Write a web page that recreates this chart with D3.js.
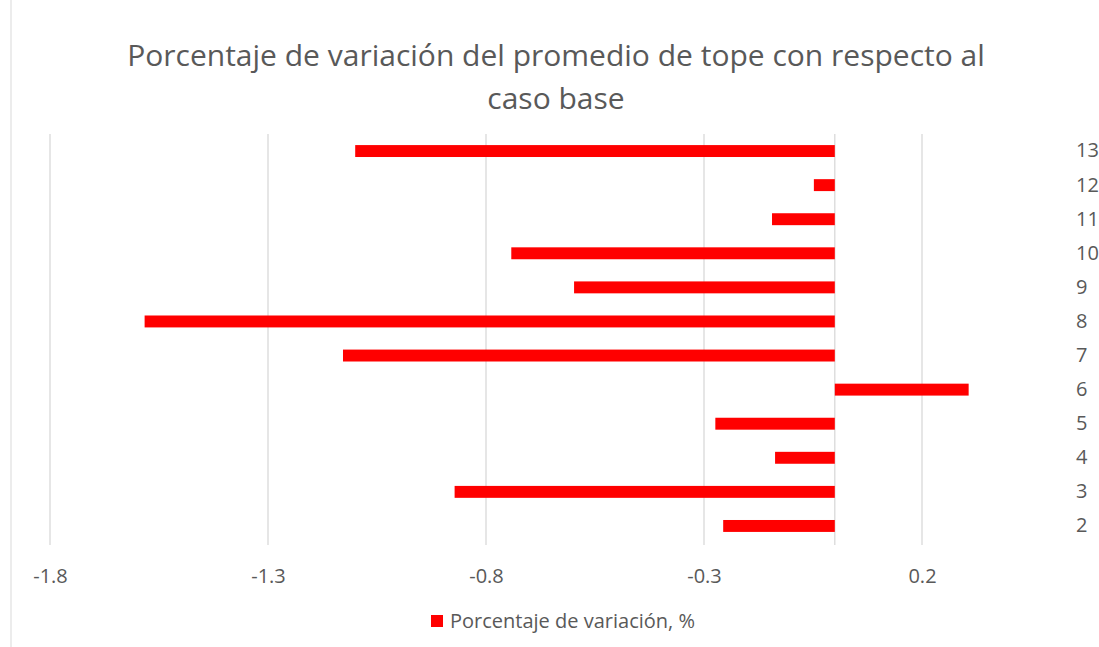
<!DOCTYPE html>
<html>
<head>
<meta charset="utf-8">
<script src="https://cdn.jsdelivr.net/npm/d3@7"></script>
<style>
  body { margin: 0; background: #fff; }
  text { font-family: "Open Sans", "Noto Sans", sans-serif; fill: #595959; }
</style>
</head>
<body>
<svg id="chart"></svg>
<script>
// datos
var casos = ["2", "3", "4", "5", "6", "7", "8", "9", "10", "11", "12", "13"];
var variacion = [-0.256, -0.872, -0.137, -0.274, 0.307, -1.128, -1.583, -0.598, -0.742, -0.144, -0.048, -1.1];
var xTicks = [-1.8, -1.3, -0.8, -0.3, 0.2];
var tituloLineas = ["Porcentaje de variación del promedio de tope con respecto al", "caso base"];
var serieNombre = "Porcentaje de variación, %";

const W = 1099, H = 647;
const plotTop = 134, plotBottom = 543, plotLeft = 50;

var data = casos.map(function (c, i) { return {caso: c, v: variacion[i]}; });

var svg = d3.select("#chart")
    .attr("width", W)
    .attr("height", H);

// borde izquierdo del area del grafico
svg.append("line")
    .attr("x1", 11).attr("x2", 11)
    .attr("y1", 0).attr("y2", H)
    .attr("stroke", "#d9d9d9");

var xScale = d3.scaleLinear()
    .domain([-1.8, 0.4])
    .range([plotLeft, plotLeft + 2.2 * 436]);

var yScale = d3.scaleBand()
    .domain(casos)
    .range([plotBottom, plotTop])
    .paddingInner(0.65)
    .paddingOuter(0.325);

// lineas de cuadricula
svg.append("g")
    .selectAll("line")
    .data(xTicks)
    .enter().append("line")
    .attr("x1", function (d) { return xScale(d); })
    .attr("x2", function (d) { return xScale(d); })
    .attr("y1", plotTop)
    .attr("y2", plotBottom + 2)
    .attr("stroke", "#d9d9d9")
    .attr("stroke-width", 1.3);

// eje vertical en cero
svg.append("line")
    .attr("x1", xScale(0)).attr("x2", xScale(0))
    .attr("y1", plotTop).attr("y2", plotBottom + 2)
    .attr("stroke", "#d9d9d9")
    .attr("stroke-width", 1.3);

// barras
svg.append("g")
    .selectAll("rect")
    .data(data)
    .enter().append("rect")
    .attr("x", function (d) { return xScale(Math.min(0, d.v)); })
    .attr("width", function (d) { return Math.abs(xScale(d.v) - xScale(0)); })
    .attr("y", function (d) { return yScale(d.caso); })
    .attr("height", yScale.bandwidth())
    .attr("fill", "#ff0000");

// eje x (guion normal como en Excel)
var xAxis = svg.append("g")
    .attr("transform", "translate(0," + 576 + ")")
    .call(d3.axisBottom(xScale).tickValues(xTicks).tickSize(0)
        .tickFormat(function (d) { return d.toFixed(1); }));
xAxis.select(".domain").remove();
xAxis.selectAll("text")
    .attr("dy", "0.35em")
    .attr("y", 0)
    .style("font-size", "20px")
    .style("fill", "#595959");

// etiquetas de categorias a la derecha
var yAxis = svg.append("g")
    .attr("transform", "translate(" + 1076 + ",0)")
    .call(d3.axisRight(yScale).tickSize(0).tickPadding(0));
yAxis.select(".domain").remove();
yAxis.selectAll("text")
    .attr("text-anchor", "start")
    .style("font-size", "20px")
    .style("fill", "#595959");

// titulo
svg.append("g")
    .selectAll("text")
    .data(tituloLineas)
    .enter().append("text")
    .attr("x", 556)
    .attr("y", function (d, i) { return 55 + i * 43; })
    .attr("dy", "0.35em")
    .attr("text-anchor", "middle")
    .style("font-size", "30px")
    .text(function (d) { return d; });

// leyenda
svg.append("rect")
    .attr("x", 431).attr("y", 615)
    .attr("width", 12).attr("height", 12)
    .attr("fill", "#ff0000");
svg.append("text")
    .attr("x", 450).attr("y", 621)
    .attr("dy", "0.35em")
    .style("font-size", "20px")
    .text(serieNombre);
</script>
</body>
</html>
